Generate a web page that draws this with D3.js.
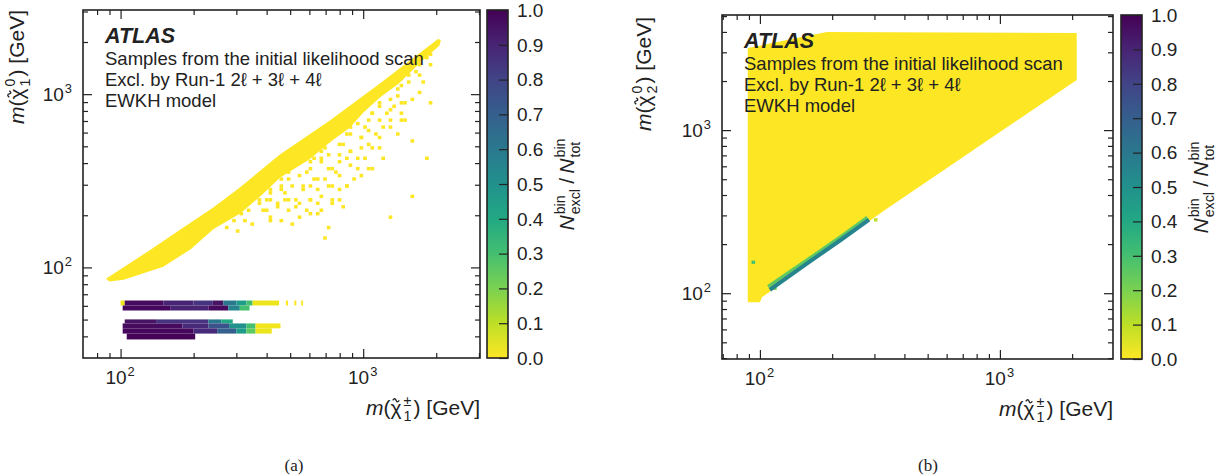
<!DOCTYPE html>
<html>
<head>
<meta charset="utf-8">
<script src="https://cdn.jsdelivr.net/npm/d3@7"></script>
<style>
  body { margin: 0; background: #fff; }
  svg { display: block; font-family: "Liberation Sans", Arial, sans-serif; }
</style>
</head>
<body>
<div id="chart"></div>
<script>
// ---- values, masses in GeV ----

// (a) dense diagonal band of samples, outline [m(chi1+-), m(chi1_0)]
const bandA = [[87, 86], [130, 124], [177, 166], [241, 222], [311, 290], [455, 450], [731, 708],
  [1175, 1157], [2040, 2090], [2090, 2040], [2060, 1900], [1750, 1560], [1600, 1380], [1400, 1150],
  [1175, 960], [1000, 780], [880, 640], [731, 530], [600, 420], [455, 330], [380, 260], [311, 205],
  [241, 166], [194, 127], [150, 101], [103, 85], [90, 83]];

// (a) isolated bins below the band, all with fraction 0
const speckA = [[1800, 1650], [1650, 1350], [1750, 1200], [1450, 1100], [1400, 980], [1500, 900],
  [1350, 850], [1416, 760], [1300, 700], [1250, 780], [1200, 640], [1500, 720], [1380, 600],
  [1830, 427], [1590, 255], [1290, 195], [1600, 540], [1900, 900], [1172, 850], [1100, 760],
  [1050, 700], [1000, 640], [1120, 580], [1060, 520], [980, 560], [1150, 480], [1030, 430],
  [969, 480], [1200, 420], [1100, 380], [900, 650], [850, 600], [820, 520], [900, 470], [870, 420],
  [940, 380], [800, 440], [780, 350], [930, 330], [860, 300], [740, 560], [700, 480], [663, 430],
  [720, 380], [690, 330], [750, 300], [660, 280], [740, 250], [684, 148], [731, 171], [800, 250],
  [820, 220], [620, 430], [580, 360], [548, 400], [620, 330], [560, 290], [600, 250], [640, 230],
  [590, 215], [650, 200], [500, 330], [453, 300], [480, 270], [520, 250], [470, 240], [530, 225],
  [500, 210], [420, 270], [400, 240], [375, 250], [440, 220], [390, 210], [420, 195], [340, 230],
  [310, 205], [330, 185], [350, 175], [290, 190], [270, 170], [300, 165],
  [341, 215], [375, 232], [412, 281], [412, 248], [405, 212], [418, 189], [453, 318], [462, 283],
  [448, 230], [458, 188], [499, 362], [505, 300], [492, 246], [510, 178], [548, 338], [556, 281],
  [540, 232], [552, 195], [603, 415], [612, 366], [596, 300], [608, 246], [615, 205], [663, 475],
  [672, 400], [655, 322], [668, 262], [676, 215], [728, 545], [720, 452], [736, 366], [724, 300],
  [742, 230], [801, 622], [812, 520], [795, 402], [806, 340], [790, 281], [881, 711], [872, 600],
  [890, 477], [880, 382], [868, 300], [969, 811], [960, 680], [975, 560], [962, 418], [984, 340],
  [1065, 927], [1072, 780], [1058, 622], [1080, 500], [1066, 380], [1172, 1000], [1160, 880],
  [1180, 711], [1168, 560], [1288, 1100], [1275, 950], [1296, 811], [1280, 650], [1416, 1209],
  [1405, 1050], [1430, 900], [1420, 700], [1557, 1300], [1545, 1150], [1570, 950], [1712, 1450],
  [1700, 1300], [1730, 1000], [1882, 1700], [1870, 1500]];

// (a) Higgs / Z funnel rows: [yLow, yHigh, xLow, xHigh, excluded fraction]
const funnelA = [
  [60.3, 64.4, 100, 104, 0.02], [60.3, 64.4, 104, 150, 0.97], [60.3, 64.4, 150, 200, 0.9],
  [60.3, 64.4, 200, 240, 0.85], [60.3, 64.4, 240, 265, 0.95], [60.3, 64.4, 265, 300, 0.6],
  [60.3, 64.4, 300, 330, 0.45], [60.3, 64.4, 330, 350, 0.3], [60.3, 64.4, 350, 450, 0.03],
  [60.3, 64.4, 480, 490, 0.0], [60.3, 64.4, 520, 530, 0.0], [60.3, 64.4, 555, 565, 0.0],
  [56.4, 60.3, 102, 160, 0.98], [56.4, 60.3, 160, 230, 0.9], [56.4, 60.3, 230, 278, 0.97],
  [56.4, 60.3, 278, 310, 0.55], [56.4, 60.3, 310, 340, 0.3],
  [47.5, 50.1, 104, 140, 0.95], [47.5, 50.1, 140, 230, 0.85], [47.5, 50.1, 230, 260, 0.6],
  [47.5, 50.1, 260, 290, 0.4],
  [44.5, 47.5, 102, 180, 0.97], [44.5, 47.5, 180, 230, 0.88], [44.5, 47.5, 230, 280, 0.75],
  [44.5, 47.5, 280, 330, 0.5], [44.5, 47.5, 330, 360, 0.3], [44.5, 47.5, 360, 456, 0.02],
  [41.5, 44.5, 102, 200, 0.98], [41.5, 44.5, 200, 250, 0.88], [41.5, 44.5, 250, 300, 0.7],
  [41.5, 44.5, 300, 330, 0.45], [41.5, 44.5, 330, 360, 0.25], [41.5, 44.5, 360, 420, 0.03],
  [38.4, 41.5, 106, 203, 0.99]];

// (b) filled region of samples, outline [m(chi1+-), m(chi2_0)]
const regionB = [[89, 88], [89, 3190], [190, 3990], [2090, 3940], [2090, 2030], [331, 323],
  [102, 94.5], [100, 88]];

// (b) excluded strip along the lower edge
const stripB = [[110, 105], [160, 155], [220, 215], [285, 283]];
const stripBFrac = 0.55;
const rimB = [[108, 110], [160, 163], [220, 226], [280, 292]];
const rimBFrac = 0.25;
const speckB = [[93.5, 155, 0.3], [300, 288, 0.1], [115, 106, 0.2]];

const cbarTicks = d3.range(0, 1.01, 0.1);

// ---- drawing ----
const svg = d3.select("#chart").append("svg")
  .attr("width", 1224).attr("height", 475)
  .attr("fill", "#222");

const color = v => d3.interpolateViridis(1 - v);

// text with stacked sub/superscripts; returns group and width
function rich(parent, parts, size, pad = 1) {
  const g = parent.append("g");
  let cx = 0;
  parts.forEach(p => {
    if (typeof p === "string" || p.t !== undefined) {
      const el = g.append("text").attr("x", cx).attr("font-size", size)
        .attr("font-style", p.it ? "italic" : null)
        .text(typeof p === "string" ? p : p.t);
      const w = el.node().getComputedTextLength();
      if (p.tilde) {
        // small tilde drawn above the glyph
        const tw = w * 0.6, x0 = cx + w * 0.2, yb = -size * 0.7, th = size * 0.1;
        g.append("path")
          .attr("d", `M${x0},${yb} C${x0 + tw * 0.25},${yb - th} ${x0 + tw * 0.4},${yb - th} ${x0 + tw * 0.5},${yb}` +
            ` S${x0 + tw * 0.75},${yb + th} ${x0 + tw},${yb}`)
          .attr("fill", "none").attr("stroke", "#222").attr("stroke-width", 1.3);
      }
      cx += w;
    } else {
      let w = 0;
      [["sup", -0.42], ["sub", 0.3]].forEach(([k, off]) => {
        if (!p[k]) return;
        const el = g.append("text").attr("x", cx + pad).attr("y", size * off)
          .attr("font-size", size * 0.68).text(p[k]);
        w = Math.max(w, el.node().getComputedTextLength());
      });
      cx += w + 2 * pad;
    }
  });
  return { g, width: cx };
}

function minorTicks(dom) {
  const out = [];
  for (let e = 1; e <= 3; e++)
    for (let k = 2; k <= 9; k++) {
      const v = k * Math.pow(10, e);
      if (v > dom[0] && v < dom[1]) out.push(v);
    }
  return out;
}

function drawPanel(p) {
  const x = d3.scaleLog().domain(p.xDomain).range([p.left, p.right]);
  const y = d3.scaleLog().domain(p.yDomain).range([p.bottom, p.top]);

  const defs = svg.append("defs");
  defs.append("clipPath").attr("id", "clip" + p.id).append("rect")
    .attr("x", p.left).attr("y", p.top)
    .attr("width", p.right - p.left).attr("height", p.bottom - p.top);

  const plot = svg.append("g").attr("clip-path", `url(#clip${p.id})`);

  // one histogram bin around a point
  const cell = (mx, my, v) => {
    const lx = Math.floor(Math.log10(mx) / p.bx) * p.bx;
    const ly = Math.floor(Math.log10(my) / p.by) * p.by;
    plot.append("rect")
      .attr("x", x(Math.pow(10, lx)))
      .attr("y", y(Math.pow(10, ly + p.by)))
      .attr("width", x(Math.pow(10, lx + p.bx)) - x(Math.pow(10, lx)))
      .attr("height", y(Math.pow(10, ly)) - y(Math.pow(10, ly + p.by)))
      .attr("fill", color(v));
  };

  const outline = d3.line().x(d => x(d[0])).y(d => y(d[1]));
  if (p.region) {
    plot.append("path").attr("d", outline(p.region) + "Z").attr("fill", color(0));
  }
  (p.speck || []).forEach(d => cell(d[0], d[1], d.length > 2 ? d[2] : 0));

  (p.runs || []).forEach(r => {
    plot.append("rect")
      .attr("x", x(r[2])).attr("y", y(r[1]))
      .attr("width", x(r[3]) - x(r[2])).attr("height", y(r[0]) - y(r[1]))
      .attr("fill", color(r[4]));
  });

  (p.strips || []).forEach(s => {
    plot.append("path").attr("d", outline(s.pts))
      .attr("fill", "none").attr("stroke", color(s.v))
      .attr("stroke-width", s.w);
  });

  // ticks on all four sides, pointing inward
  const xMaj = [100, 1000], yMaj = [100, 1000];
  const xMin = minorTicks(p.xDomain), yMin = minorTicks(p.yDomain);
  const tickStyle = s => s.call(g => g.select(".domain").remove())
    .selectAll("line").attr("stroke", "#222").attr("stroke-width", 1.2);
  [[d3.axisBottom, p.bottom], [d3.axisTop, p.top]].forEach(([ax, pos]) => {
    svg.append("g").attr("transform", `translate(0,${pos})`)
      .call(ax(x).tickValues(xMaj).tickSize(-9).tickFormat("")).call(tickStyle);
    svg.append("g").attr("transform", `translate(0,${pos})`)
      .call(ax(x).tickValues(xMin).tickSize(-5).tickFormat("")).call(tickStyle);
  });
  [[d3.axisLeft, p.left], [d3.axisRight, p.right]].forEach(([ax, pos]) => {
    svg.append("g").attr("transform", `translate(${pos},0)`)
      .call(ax(y).tickValues(yMaj).tickSize(-9).tickFormat("")).call(tickStyle);
    svg.append("g").attr("transform", `translate(${pos},0)`)
      .call(ax(y).tickValues(yMin).tickSize(-5).tickFormat("")).call(tickStyle);
  });

  svg.append("rect")
    .attr("x", p.left).attr("y", p.top)
    .attr("width", p.right - p.left).attr("height", p.bottom - p.top)
    .attr("fill", "none").attr("stroke", "#222").attr("stroke-width", 1.6);

  // tick labels 10^n
  const pow = (e) => [{ t: "10" }, { sup: String(e) }];
  xMaj.forEach(v => {
    const r = rich(svg, pow(Math.round(Math.log10(v))), 19);
    r.g.attr("transform", `translate(${x(v) - r.width / 2},${p.bottom + 26})`);
  });
  yMaj.forEach(v => {
    const r = rich(svg, pow(Math.round(Math.log10(v))), 19);
    r.g.attr("transform", `translate(${p.left - 10 - r.width},${y(v) + 7})`);
  });

  // axis titles
  const chi = { t: "χ", tilde: true };
  const xt = rich(svg, [{ t: "m", it: true }, "(", chi, { sub: "1", sup: "±" }, ") [GeV]"], 21, 2);
  xt.g.attr("transform", `translate(${p.right - xt.width},${p.bottom + 57})`);
  const yt = rich(svg, [{ t: "m", it: true }, "(", chi, { sub: p.yIdx, sup: "0" }, ") [GeV]"], 21, 2);
  yt.g.attr("transform", `translate(${p.yTitleX},${p.yTitleTop}) rotate(-90) translate(${-yt.width},0)`);

  // labels on the plot
  const lab = svg.append("g").attr("transform", `translate(${p.left + 22},${p.top})`);
  lab.append("text").attr("y", 33).attr("font-size", 21.5)
    .attr("font-weight", "bold").attr("font-style", "italic").text("ATLAS");
  ["Samples from the initial likelihood scan", "Excl. by Run-1 2ℓ + 3ℓ + 4ℓ", "EWKH model"]
    .forEach((s, i) => lab.append("text").attr("y", 55 + i * 21).attr("font-size", 18.5).text(s));

  // colour bar
  const grad = defs.append("linearGradient").attr("id", "grad" + p.id)
    .attr("x1", 0).attr("y1", 1).attr("x2", 0).attr("y2", 0);
  cbarTicks.forEach(t => grad.append("stop").attr("offset", t).attr("stop-color", color(t)));
  const cy = d3.scaleLinear().domain([0, 1]).range([p.bottom, p.top]);
  svg.append("rect")
    .attr("x", p.cbLeft).attr("y", p.top)
    .attr("width", 21).attr("height", p.bottom - p.top)
    .attr("fill", `url(#grad${p.id})`).attr("stroke", "#222").attr("stroke-width", 1.6);
  svg.append("g").attr("transform", `translate(${p.cbLeft + 21},0)`)
    .call(d3.axisRight(cy).tickValues(cbarTicks).tickSize(-9).tickFormat(""))
    .call(tickStyle);
  cbarTicks.forEach(t => svg.append("text")
    .attr("x", p.cbLeft + 30).attr("y", cy(t)).attr("dy", "0.36em")
    .attr("font-size", 19).text(d3.format(".1f")(t)));
  const cl = rich(svg, [{ t: "N", it: true }, { sup: "bin", sub: "excl" }, "\u2009/\u2009",
    { t: "N", it: true }, { sup: "bin", sub: "tot" }], 21);
  cl.g.attr("transform",
    `translate(${p.cbLeft + 87},${(p.top + p.bottom) / 2}) rotate(-90) translate(${-cl.width / 2},0)`);

  svg.append("text").attr("x", p.capX).attr("y", p.capY)
    .attr("text-anchor", "middle").attr("font-size", 17)
    .attr("font-family", "'Liberation Serif', serif").text(p.caption);
}

drawPanel({
  id: "a", left: 83, right: 480, top: 10, bottom: 358,
  xDomain: [70, 3030], yDomain: [30, 3060], bx: 0.015, by: 0.02,
  region: bandA, speck: speckA, runs: funnelA,
  yIdx: "1", yTitleX: 24, yTitleTop: 10, cbLeft: 487,
  caption: "(a)", capX: 294, capY: 471
});

drawPanel({
  id: "b", left: 722, right: 1113, top: 15, bottom: 359,
  xDomain: [69.5, 2960], yDomain: [39.5, 5080], bx: 0.015, by: 0.02,
  region: regionB, speck: speckB,
  strips: [{ pts: rimB, v: rimBFrac, w: 3 }, { pts: stripB, v: stripBFrac, w: 4 }],
  yIdx: "2", yTitleX: 651, yTitleTop: 17, cbLeft: 1121,
  caption: "(b)", capX: 928, capY: 471
});
</script>
</body>
</html>
